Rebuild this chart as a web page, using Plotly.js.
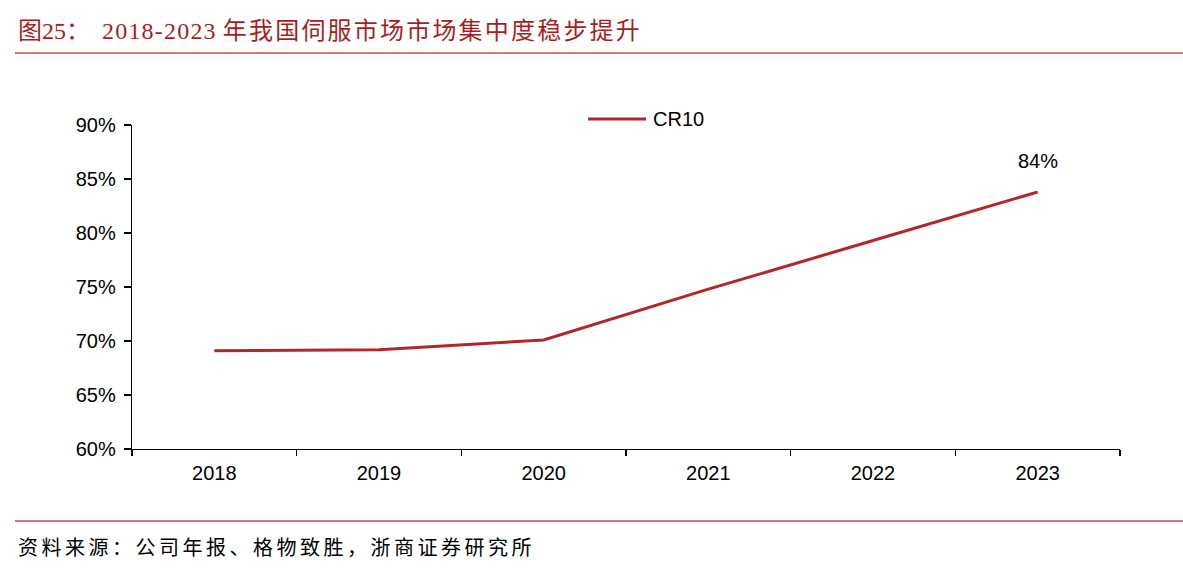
<!DOCTYPE html>
<html>
<head>
<meta charset="utf-8">
<script src="https://cdn.plot.ly/plotly-3.0.1.min.js"></script>
<style>
html,body{margin:0;padding:0;background:#fff;}
#chart{width:1183px;height:581px;}
</style>
</head>
<body>
<div id="chart"></div>
<script>
// ---- data ----
const years = ['2018', '2019', '2020', '2021', '2022', '2023'];
const cr10 = [69.1, 69.2, 70.1, 74.8, 79.3, 83.8];
const seriesName = 'CR10';
const yTicks = [60, 65, 70, 75, 80, 85, 90];
const titlePrefix = '图25：';
const titleYears = '2018-2023';
const titleRest = '年我国伺服市场市场集中度稳步提升';
const sourceText = '资料来源：公司年报、格物致胜，浙商证券研究所';

// ---- layout helpers (pixel -> paper) ----
const W = 1183, H = 581;
const L = 132, R = 63, T = 125, B = 132;
const pw = W - L - R, ph = H - T - B;
const px = x => (x - L) / pw;
const py = y => (H - B - y) / ph;

const red = '#A71E22';
const lineRed = '#B0282A';
const sans = 'Liberation Sans, Arial, sans-serif';
const serif = 'Liberation Serif, Times New Roman, Noto Sans CJK SC, serif';

const titleHtml = titlePrefix + '&nbsp;&nbsp;' +
  '<span style="letter-spacing:1.2px">' + titleYears + '</span>&nbsp;' +
  '<span style="letter-spacing:2.2px">' + titleRest + '</span>';

const last = cr10.length - 1;

const trace = {
  type: 'scatter',
  mode: 'lines',
  x: years,
  y: cr10,
  name: seriesName,
  line: {color: lineRed, width: 3},
  hoverinfo: 'skip',
  showlegend: false
};

const layout = {
  width: W, height: H,
  margin: {l: L, r: R, t: T, b: B, pad: 0},
  paper_bgcolor: '#fff',
  plot_bgcolor: '#fff',
  showlegend: false,
  xaxis: {
    type: 'category',
    range: [-0.5, years.length - 0.5],
    showline: true, linecolor: '#000', linewidth: 1.3,
    ticks: 'outside', tickson: 'boundaries', ticklen: 6, tickcolor: '#000', tickwidth: 1.3,
    showgrid: false, zeroline: false,
    tickfont: {family: sans, size: 20, color: '#000'},
    ticklabelstandoff: 6,
    fixedrange: true
  },
  yaxis: {
    range: [60, 90],
    tickvals: yTicks,
    ticktext: yTicks.map(v => v + '%'),
    showline: true, linecolor: '#000', linewidth: 1.3,
    ticks: 'outside', ticklen: 7, tickcolor: '#000', tickwidth: 1.3,
    showgrid: false, zeroline: false,
    tickfont: {family: sans, size: 20, color: '#000'},
    ticklabelstandoff: 4,
    fixedrange: true
  },
  shapes: [
    {type: 'line', xref: 'paper', yref: 'paper', x0: px(15), x1: px(1183), y0: py(53), y1: py(53),
     line: {color: '#C0504D', width: 1.5}},
    {type: 'line', xref: 'paper', yref: 'paper', x0: px(15), x1: px(1183), y0: py(521), y1: py(521),
     line: {color: '#C0504D', width: 1.5}},
    // legend sample line
    {type: 'line', xref: 'paper', yref: 'paper', x0: px(588), x1: px(646), y0: py(119), y1: py(119),
     line: {color: lineRed, width: 3}}
  ],
  annotations: [
    {xref: 'paper', yref: 'paper', x: px(16), y: py(31), xanchor: 'left', yanchor: 'middle',
     text: titleHtml, showarrow: false, font: {family: serif, size: 24, color: red}},
    {xref: 'paper', yref: 'paper', x: px(16), y: py(548), xanchor: 'left', yanchor: 'middle',
     text: '<span style="letter-spacing:3.5px">' + sourceText + '</span>', showarrow: false,
     font: {family: serif, size: 20, color: '#000'}},
    // legend label
    {xref: 'paper', yref: 'paper', x: px(651), y: py(119), xanchor: 'left', yanchor: 'middle',
     text: seriesName, showarrow: false, font: {family: sans, size: 20, color: '#000'}},
    // data label
    {xref: 'x', yref: 'y', x: last, y: cr10[last], yshift: 31,
     text: Math.round(cr10[last]) + '%', showarrow: false,
     font: {family: sans, size: 20, color: '#000'}}
  ]
};

Plotly.newPlot('chart', [trace], layout, {displayModeBar: false, staticPlot: true});
</script>
</body>
</html>
